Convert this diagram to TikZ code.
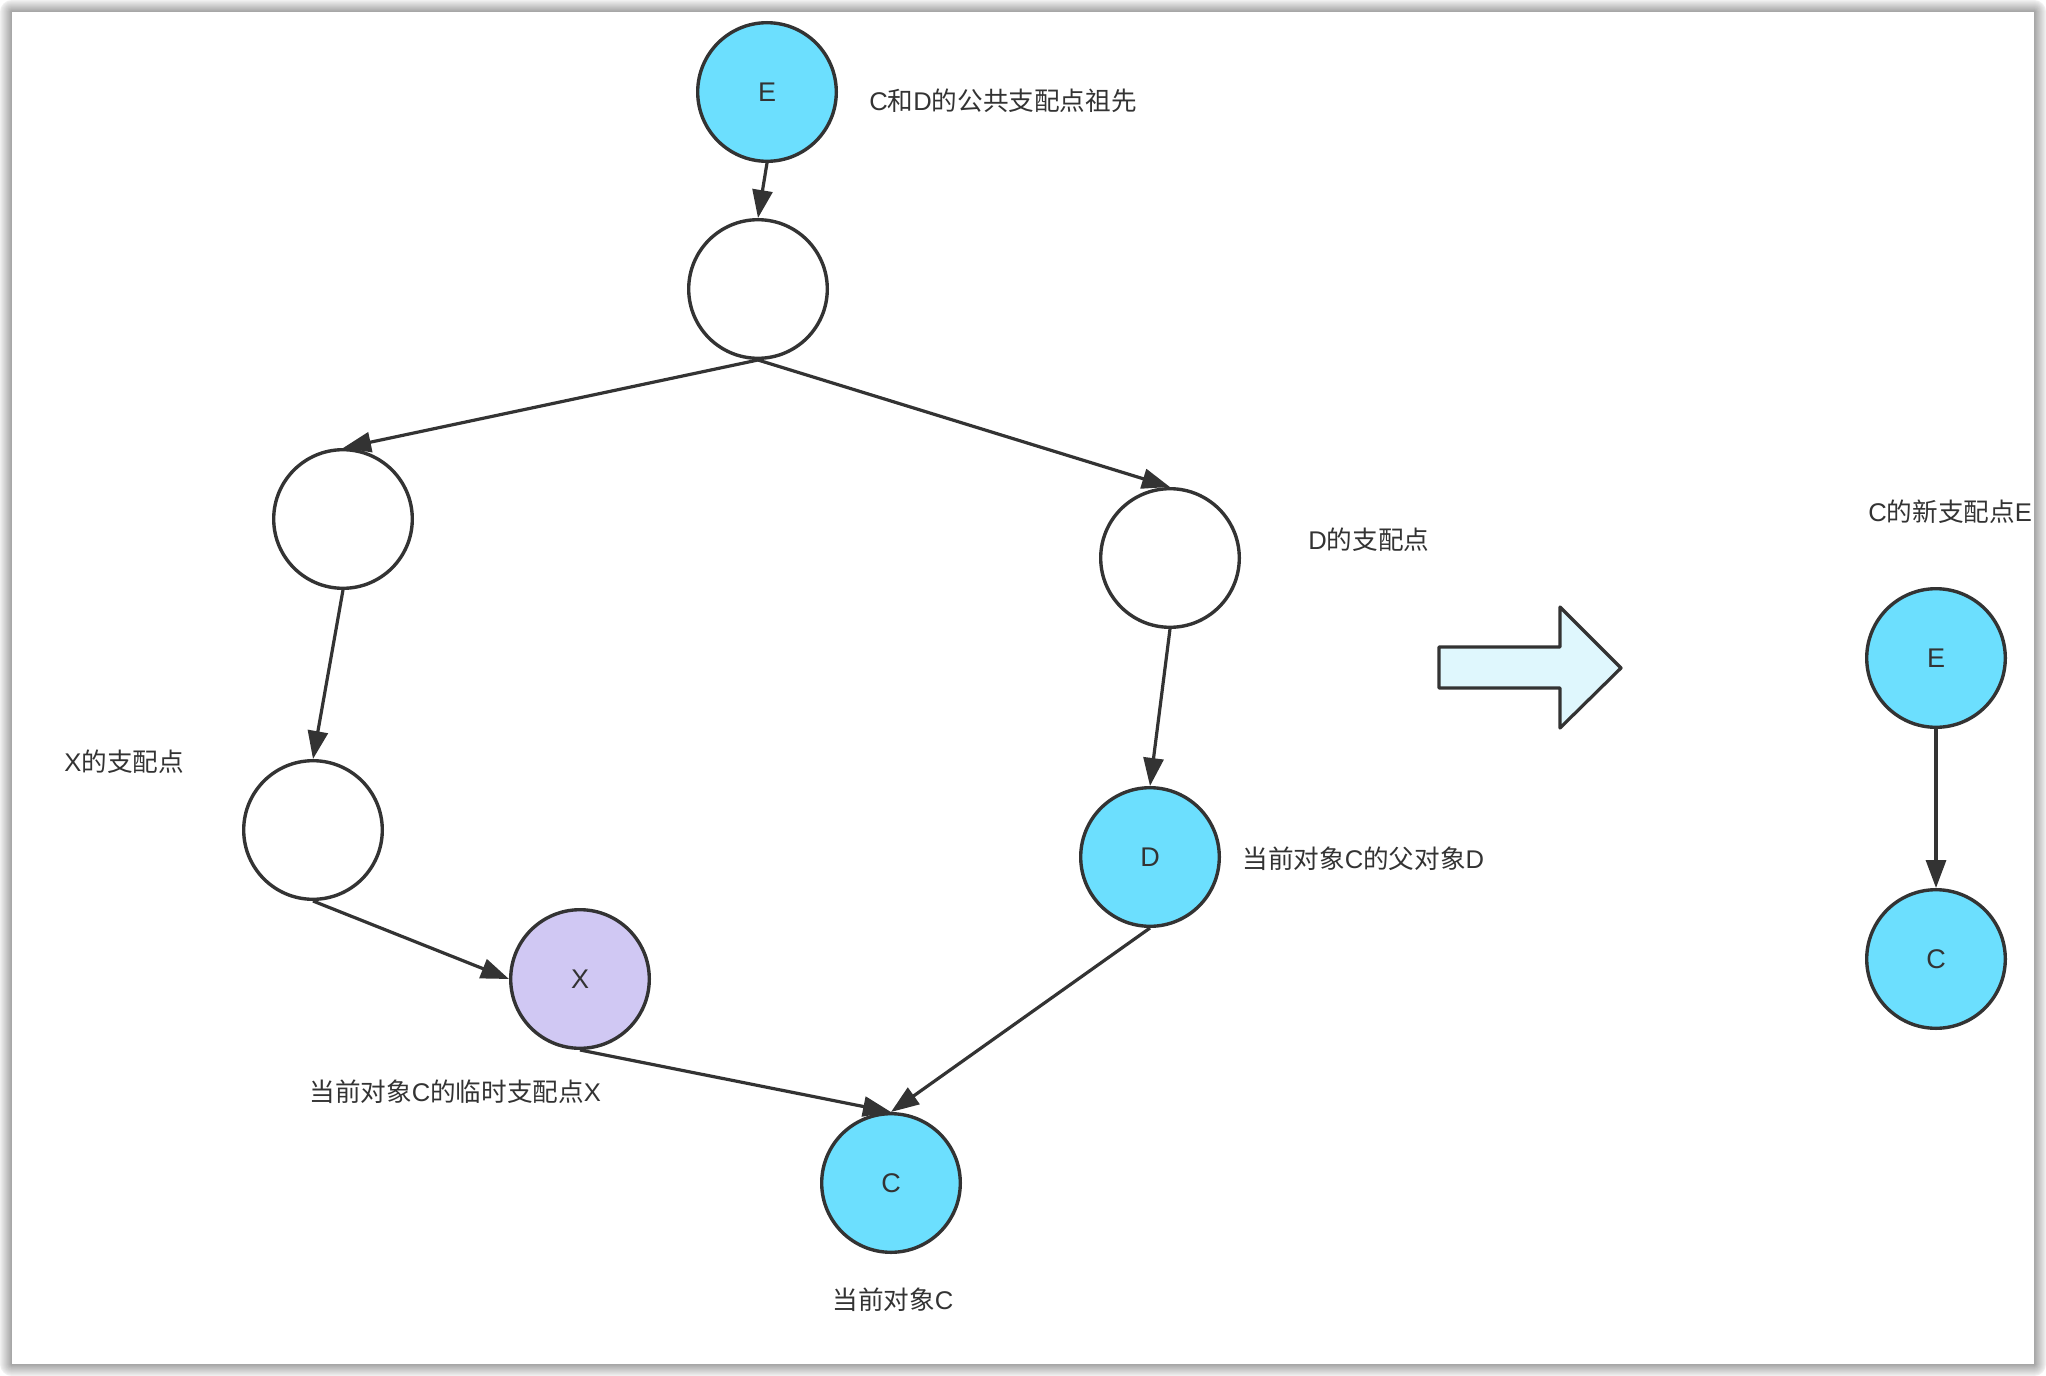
\documentclass[tikz,border=0pt]{standalone}
\usepackage{fontspec}
\setmainfont{Liberation Sans}
\newfontfamily\cjk{Noto Sans CJK SC}
\usetikzlibrary{arrows.meta}
\definecolor{ink}{HTML}{333333}
\definecolor{cyanfill}{HTML}{6CDFFE}
\definecolor{violetfill}{HTML}{D0C8F3}
\definecolor{arrowfill}{HTML}{DFF7FD}
\tikzset{
  vertex/.style={circle, draw=ink, line width=1.7pt, minimum size=69.3pt,
    inner sep=0pt, text=ink, font=\fontsize{13.5pt}{16pt}\selectfont},
  plain/.style={vertex, fill=white},
  hot/.style={vertex, fill=cyanfill},
  temp/.style={vertex, fill=violetfill},
  note/.style={inner sep=0pt, text=ink, font=\fontsize{12.8pt}{15pt}\selectfont},
  link/.style={draw=ink, line width=1.6pt,
    -{Triangle[length=14pt, width=10pt]}},
}
\begin{document}
\begin{tikzpicture}[x=0.5pt, y=-0.5pt]
  % sheet with soft drop shadow
  \useasboundingbox (0,0) rectangle (2046,1376);
  \fill[white] (0,0) rectangle (2046,1376);
  \foreach \i in {0,...,11} {
    \pgfmathsetmacro\g{6+\i*2.6}
    \fill[black!\g, rounded corners=(12-\i)*0.5pt] (\i,\i) rectangle (2046-\i,1376-\i);
  }
  \fill[white] (12,12) rectangle (2034,1364);

  % dominator tree before the update
  \node[hot]   (E)  at (767,92)   {E};
  \node[plain] (N2) at (758,289)  {};
  \node[plain] (L1) at (343,519)  {};
  \node[plain] (R1) at (1170,558) {};
  \node[plain] (L2) at (313,830)  {};
  \node[hot]   (D)  at (1150,857) {D};
  \node[temp]  (X)  at (580,979)  {X};
  \node[hot]   (C)  at (891,1183) {C};

  \draw[link] (E.south)  -- (N2.north);
  \draw[link] (N2.south) -- (L1.north);
  \draw[link] (N2.south) -- (R1.north);
  \draw[link] (L1.south) -- (L2.north);
  \draw[link] (R1.south) -- (D.north);
  \draw[link] (L2.south) -- (X.west);
  \draw[link] (X.south)  -- (C.north);
  \draw[link] (D.south)  -- (C.north);

  \node[note, anchor=west] (tE) at (869,101)  {C{\cjk 和}D{\cjk 的公共支配点祖先}};
  \node[note, anchor=west] (tR) at (1308,540) {D{\cjk 的支配点}};
  \node[note, anchor=west] (tL) at (64,762)   {X{\cjk 的支配点}};
  \node[note, anchor=west] (tD) at (1242,859) {{\cjk 当前对象}C{\cjk 的父对象}D};
  \node[note, anchor=west] (tX) at (309,1092) {{\cjk 当前对象}C{\cjk 的临时支配点}X};
  \node[note]              (tC) at (893,1300) {{\cjk 当前对象}C};

  % transition arrow
  \draw[ink, fill=arrowfill, line width=1.6pt, line join=round]
    (1439,647) -- (1560,647) -- (1560,607) -- (1621,668)
    -- (1560,728) -- (1560,688) -- (1439,688) -- cycle;

  % result after the update
  \node[hot] (E2) at (1936,658) {E};
  \node[hot] (C2) at (1936,959) {C};
  \draw[link] (E2.south) -- (C2.north);
  \node[note, anchor=west] (tN) at (1868,512) {C{\cjk 的新支配点}E};
\end{tikzpicture}
\end{document}
